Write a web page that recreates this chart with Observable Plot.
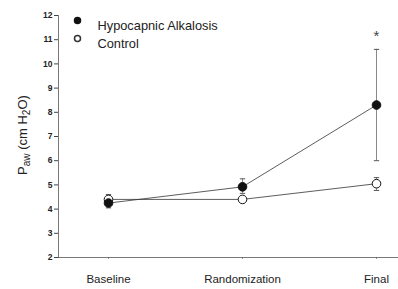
<!DOCTYPE html>
<html>
<head>
<meta charset="utf-8">
<script src="https://cdn.jsdelivr.net/npm/d3@7"></script>
<script src="https://cdn.jsdelivr.net/npm/@observablehq/plot@0.6"></script>
<style>
  html, body { margin: 0; padding: 0; background: #fff; }
  #chart { width: 398px; height: 289px; }
</style>
</head>
<body>
<div id="chart"></div>
<script>
const categories = ["Baseline", "Randomization", "Final"];
const hypoMean = [4.25, 4.92, 8.3];
const hypoLow  = [4.05, 4.65, 6.0];
const hypoHigh = [4.45, 5.25, 10.6];
const ctrlMean = [4.4, 4.4, 5.05];
const ctrlLow  = [4.2, 4.3, 4.77];
const ctrlHigh = [4.6, 4.5, 5.3];
const yTicks = [2, 3, 4, 5, 6, 7, 8, 9, 10, 11, 12];
const seriesNames = ["Hypocapnic Alkalosis", "Control"];
const significant = [{category: "Final", series: "Hypocapnic Alkalosis", label: "*"}];

const rows = [];
categories.forEach((c, i) => {
  rows.push({category: c, series: seriesNames[0], mean: hypoMean[i], low: hypoLow[i], high: hypoHigh[i]});
  rows.push({category: c, series: seriesNames[1], mean: ctrlMean[i], low: ctrlLow[i], high: ctrlHigh[i]});
});
const hypo = rows.filter(d => d.series === seriesNames[0]);
const ctrl = rows.filter(d => d.series === seriesNames[1]);
const annot = significant.map(s => ({...rows.find(r => r.category === s.category && r.series === s.series), label: s.label}));

const capSymbol = {
  draw(ctx, size) {
    const r = Math.sqrt(size) / 2;
    ctx.moveTo(-r, 0);
    ctx.lineTo(r, 0);
  }
};

const font = "Liberation Sans, Arial, Helvetica, sans-serif";

const plot = Plot.plot({
  width: 398,
  height: 289,
  marginLeft: 58,
  marginRight: 0,
  marginTop: 15,
  marginBottom: 32,
  style: {fontFamily: font, background: "#fff", color: "#222"},
  x: {type: "point", domain: categories, range: [107, 376], padding: 0},
  y: {domain: [2, 12]},
  marks: [
    Plot.axisY({ticks: yTicks, tickSize: 4, tickPadding: 2, fontSize: 8.5, fontWeight: "bold", label: null, stroke: "#444"}),
    Plot.frame({anchor: "left", stroke: "#555", strokeWidth: 0.8}),
    Plot.axisX({tickSize: 2, tickPadding: 15, fontSize: 11.5, label: null, stroke: "#999", fill: "#222"}),
    Plot.ruleY([2], {stroke: "#555", strokeWidth: 0.8}),
    // error bars
    Plot.ruleX(rows, {x: "category", y1: "low", y2: "high", stroke: "#8a8a8a", strokeWidth: 1}),
    Plot.dot(rows, {x: "category", y: "low", symbol: capSymbol, r: 3, stroke: "#555", fill: "none", strokeWidth: 1}),
    Plot.dot(rows, {x: "category", y: "high", symbol: capSymbol, r: 3, stroke: "#555", fill: "none", strokeWidth: 1}),
    // lines
    Plot.line(hypo, {x: "category", y: "mean", stroke: "#333", strokeWidth: 0.8}),
    Plot.line(ctrl, {x: "category", y: "mean", stroke: "#333", strokeWidth: 0.8}),
    // points
    Plot.dot(ctrl, {x: "category", y: "mean", r: 4.3, fill: "#fff", stroke: "#111", strokeWidth: 1}),
    Plot.dot(hypo, {x: "category", y: "mean", r: 4.3, fill: "#111", stroke: "#111", strokeWidth: 1}),
    // significance
    Plot.text(annot, {x: "category", y: "high", text: "label", dy: -13, fontSize: 15, fill: "#444"}),
    // legend
    Plot.dot([seriesNames[0]], {frameAnchor: "top-left", dx: 19, dy: 5, r: 3, fill: "#111", stroke: "#111"}),
    Plot.dot([seriesNames[1]], {frameAnchor: "top-left", dx: 19, dy: 23, r: 3, fill: "#fff", stroke: "#333"}),
    Plot.text([seriesNames[0]], {frameAnchor: "top-left", dx: 39, dy: 5, text: d => d, textAnchor: "start", fontSize: 12.8, fill: "#222"}),
    Plot.text([seriesNames[1]], {frameAnchor: "top-left", dx: 39, dy: 23, text: d => d, textAnchor: "start", fontSize: 12.8, fill: "#222"})
  ]
});

// Y axis label with subscripts
const svg = d3.select(plot);
const lbl = svg.append("text")
  .attr("transform", "translate(27,135) rotate(-90)")
  .attr("text-anchor", "middle")
  .attr("font-family", font)
  .attr("font-size", 13)
  .attr("fill", "#222");
lbl.append("tspan").text("P");
lbl.append("tspan").attr("font-size", 10).attr("dy", 3).text("aw");
lbl.append("tspan").attr("dy", -3).text(" (cm H");
lbl.append("tspan").attr("font-size", 10).attr("dy", 3).text("2");
lbl.append("tspan").attr("dy", -3).text("O)");

document.getElementById("chart").appendChild(plot);
</script>
</body>
</html>
